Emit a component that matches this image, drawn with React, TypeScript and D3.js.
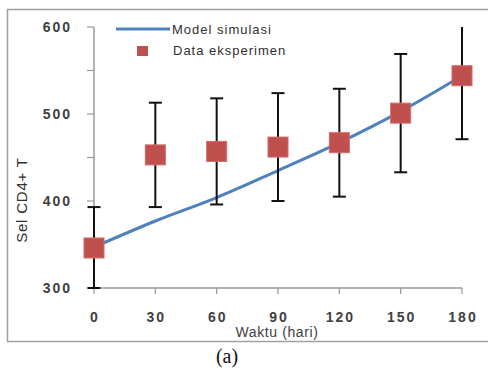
import React from 'react';
import * as d3 from 'd3';

// days
const days = [0, 30, 60, 90, 120, 150, 180];
// model simulation curve
const modelValues = [347, 377, 404, 435, 467, 503, 544];
// experimental data: mean and error (+/-)
const dataValues = [346, 453, 457, 462, 467, 501, 544];
const dataErrors = [47, 60, 61, 62, 62, 68, 73];
const yTicks = [300, 350, 400, 450, 500, 550, 600];
const yLabels = [300, 400, 500, 600];

const W = 488;
const H = 373;

export default function App() {
  const x = d3.scaleLinear().domain([0, 180]).range([94, 462]);
  const y = d3.scaleLinear().domain([300, 600]).range([288, 27]);

  const line = d3
    .line<number>()
    .x((_, i) => x(days[i]))
    .y((d) => y(d))
    .curve(d3.curveMonotoneX);

  const tickFont = {
    fontFamily: 'Liberation Sans, Arial, sans-serif',
    fontWeight: 'bold' as const,
    fontSize: 14,
    letterSpacing: 2,
    fill: '#404040',
  };

  return (
    <svg
      width={W}
      height={H}
      style={{ position: 'absolute', left: 0, top: 0, background: '#fff' }}
    >
      {/* chart frame */}
      <rect x={7.5} y={9.5} width={490} height={332} fill="#fff" stroke="#a0a0a0" strokeWidth={1.5} />

      {/* y axis */}
      <line x1={94} x2={94} y1={y(600)} y2={y(300)} stroke="#999" strokeWidth={1.5} />
      {yTicks.map((t) => (
        <line key={t} x1={87} x2={94} y1={y(t)} y2={y(t)} stroke="#999" strokeWidth={1.2} />
      ))}
      {yLabels.map((t) => (
        <text key={t} x={72} y={y(t) + 5} textAnchor="end" {...tickFont}>
          {t}
        </text>
      ))}

      {/* x axis */}
      <line x1={x(0)} x2={x(180)} y1={y(300)} y2={y(300)} stroke="#999" strokeWidth={1.5} />
      {days.map((d) => (
        <g key={d}>
          <line x1={x(d)} x2={x(d)} y1={y(300)} y2={y(300) + 6} stroke="#999" strokeWidth={1.2} />
          <text x={x(d) + 1} y={322} textAnchor="middle" {...tickFont}>
            {d}
          </text>
        </g>
      ))}

      {/* axis titles */}
      <text
        x={277}
        y={337}
        textAnchor="middle"
        fontFamily="Liberation Sans, Arial, sans-serif"
        fontSize={14}
        letterSpacing={0.6}
        fill="#404040"
      >
        Waktu (hari)
      </text>
      <text
        transform="translate(27,200) rotate(-90)"
        textAnchor="middle"
        fontFamily="Liberation Sans Narrow, Liberation Sans, Arial, sans-serif"
        fontSize={15}
        letterSpacing={0.8}
        fill="#303030"
      >
        Sel CD4+ T
      </text>

      {/* model line */}
      <path d={line(modelValues) || ''} fill="none" stroke="#4F81BD" strokeWidth={3} />

      {/* error bars */}
      {dataValues.map((v, i) => {
        const top = Math.min(600, v + dataErrors[i]);
        const bot = Math.max(300, v - dataErrors[i]);
        const cx = x(days[i]);
        return (
          <g key={i} stroke="#111" strokeWidth={2}>
            <line x1={cx} x2={cx} y1={y(top)} y2={y(bot)} />
            {v + dataErrors[i] <= 600 && <line x1={cx - 6.5} x2={cx + 6.5} y1={y(top)} y2={y(top)} />}
            <line x1={cx - 6.5} x2={cx + 6.5} y1={y(bot)} y2={y(bot)} />
          </g>
        );
      })}

      {/* data markers */}
      {dataValues.map((v, i) => (
        <rect
          key={i}
          x={x(days[i]) - 10}
          y={y(v) - 10}
          width={20}
          height={20}
          fill="#C0504D"
          stroke="#d06a66"
          strokeWidth={1}
        />
      ))}

      {/* legend */}
      <line x1={116} x2={170} y1={29} y2={29} stroke="#4F81BD" strokeWidth={3} />
      <text
        x={172}
        y={34}
        fontFamily="Liberation Sans, Arial, sans-serif"
        fontSize={13}
        letterSpacing={1}
        fill="#303030"
      >
        Model simulasi
      </text>
      <rect x={137} y={46} width={11} height={10} fill="#C0504D" />
      <text
        x={173}
        y={55}
        fontFamily="Liberation Sans, Arial, sans-serif"
        fontSize={13}
        letterSpacing={1}
        fill="#303030"
      >
        Data eksperimen
      </text>

      {/* caption */}
      <text
        x={227}
        y={363}
        textAnchor="middle"
        fontFamily="Liberation Serif, Times New Roman, serif"
        fontSize={20}
        fill="#111"
      >
        (a)
      </text>
    </svg>
  );
}
